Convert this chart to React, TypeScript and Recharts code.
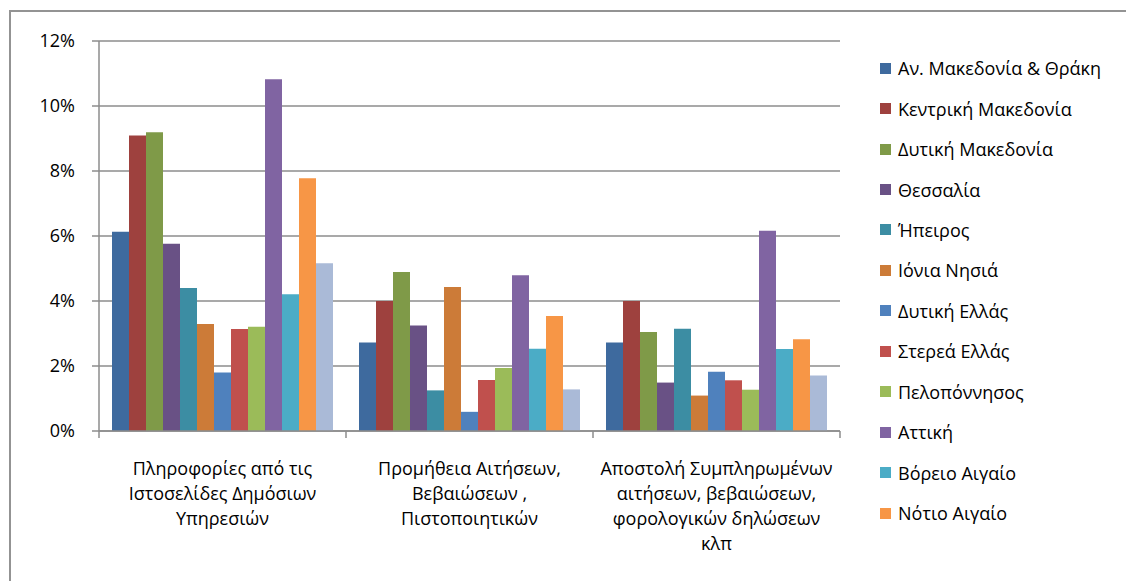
import React from "react";
import { BarChart, Bar, XAxis, YAxis, CartesianGrid } from "recharts";

const CATEGORY_KEYS = ["info", "forms", "submit"];
const CATEGORY_LINES: string[][] = [
  ["Πληροφορίες από τις", "Ιστοσελίδες Δημόσιων", "Υπηρεσιών"],
  ["Προμήθεια Αιτήσεων,", "Βεβαιώσεων ,", "Πιστοποιητικών"],
  ["Αποστολή Συμπληρωμένων", "αιτήσεων, βεβαιώσεων,", "φορολογικών δηλώσεων", "κλπ"],
];

const SERIES_NAMES = [
  "Αν. Μακεδονία & Θράκη",
  "Κεντρική Μακεδονία",
  "Δυτική Μακεδονία",
  "Θεσσαλία",
  "Ήπειρος",
  "Ιόνια Νησιά",
  "Δυτική Ελλάς",
  "Στερεά Ελλάς",
  "Πελοπόννησος",
  "Αττική",
  "Βόρειο Αιγαίο",
  "Νότιο Αιγαίο",
  "Κρήτη",
];

const SERIES_COLORS = [
  "#3E6A9E",
  "#9E413E",
  "#7F9A48",
  "#695185",
  "#3C8DA3",
  "#CC7B38",
  "#4F81BD",
  "#C0504D",
  "#9BBB59",
  "#8064A2",
  "#4BACC6",
  "#F79646",
  "#AABAD7",
];

// values in percent, per series: [info, forms, submit]
const AN_MAKEDONIA = [6.13, 2.72, 2.72];
const KENTRIKI_MAKEDONIA = [9.09, 4.0, 4.0];
const DYTIKI_MAKEDONIA = [9.19, 4.89, 3.05];
const THESSALIA = [5.76, 3.25, 1.49];
const IPEIROS = [4.4, 1.25, 3.15];
const IONIA = [3.29, 4.43, 1.09];
const DYTIKI_ELLAS = [1.8, 0.59, 1.82];
const STEREA = [3.14, 1.57, 1.56];
const PELOPONNISOS = [3.21, 1.94, 1.27];
const ATTIKI = [10.82, 4.79, 6.16];
const VOREIO = [4.21, 2.53, 2.52];
const NOTIO = [7.78, 3.54, 2.82];
const KRITI = [5.16, 1.28, 1.71];

const SERIES_VALUES = [
  AN_MAKEDONIA,
  KENTRIKI_MAKEDONIA,
  DYTIKI_MAKEDONIA,
  THESSALIA,
  IPEIROS,
  IONIA,
  DYTIKI_ELLAS,
  STEREA,
  PELOPONNISOS,
  ATTIKI,
  VOREIO,
  NOTIO,
  KRITI,
];

const Y_TICKS = [0, 2, 4, 6, 8, 10, 12];
const LEGEND_VISIBLE = 12;

const data = CATEGORY_KEYS.map((key, ci) => {
  const row: Record<string, any> = { key };
  SERIES_VALUES.forEach((vals, si) => {
    row["s" + si] = vals[ci];
  });
  return row;
});

const FONT = "'Open Sans', sans-serif";
const FONT_SIZE = 18;
const GRAY = "#8c8c8c";

const CategoryTick = (props: any) => {
  const { x, y, payload, index } = props;
  const half = payload.offset || 0;
  const lines = CATEGORY_LINES[index] || [];
  const last = index === CATEGORY_LINES.length - 1;
  return (
    <g>
      <line x1={x - half} x2={x - half} y1={y} y2={y + 7} stroke={GRAY} strokeWidth={1.5} />
      {last && <line x1={x + half} x2={x + half} y1={y} y2={y + 7} stroke={GRAY} strokeWidth={1.5} />}
      <text x={x} y={y} textAnchor="middle" fontFamily={FONT} fontSize={FONT_SIZE} fill="#000">
        {lines.map((l, i) => (
          <tspan key={i} x={x} y={y + 44 + i * 25}>
            {l}
          </tspan>
        ))}
      </text>
    </g>
  );
};

export default function App() {
  return (
    <div style={{ position: "absolute", left: 0, top: 0, width: 1126, height: 581, background: "#fff", overflow: "hidden" }}>
      <div
        style={{
          position: "absolute",
          left: 9,
          top: 10,
          width: 1200,
          height: 700,
          borderLeft: "2px solid #939393",
          borderTop: "2px solid #939393",
        }}
      />
      <div style={{ position: "absolute", left: 0, top: 0 }}>
        <BarChart
          width={1126}
          height={581}
          data={data}
          margin={{ top: 41, right: 286, left: 0, bottom: 0 }}
          barCategoryGap={13}
          barGap={0}
        >
          <CartesianGrid vertical={false} stroke={GRAY} strokeWidth={1.5} />
          <XAxis
            dataKey="key"
            height={150}
            interval={0}
            tickSize={0}
            tickMargin={0}
            tickLine={false}
            axisLine={{ stroke: GRAY, strokeWidth: 1.5 }}
            tick={<CategoryTick />}
          />
          <YAxis
            width={99}
            domain={[0, 12]}
            ticks={Y_TICKS}
            interval={0}
            tickFormatter={(v: number) => `${v}%`}
            tickSize={7}
            tickMargin={17}
            tickLine={{ stroke: GRAY, strokeWidth: 1.5 }}
            axisLine={{ stroke: GRAY, strokeWidth: 1.5 }}
            tick={{ fontFamily: FONT, fontSize: FONT_SIZE, fill: "#000" }}
          />
          {SERIES_NAMES.map((name, si) => (
            <Bar
              key={name}
              dataKey={"s" + si}
              name={name}
              fill={SERIES_COLORS[si]}
              isAnimationActive={false}
            />
          ))}
        </BarChart>
      </div>
      <div style={{ position: "absolute", left: 880, top: 48, fontFamily: FONT, fontSize: FONT_SIZE, color: "#000" }}>
        {SERIES_NAMES.slice(0, LEGEND_VISIBLE).map((name, si) => (
          <div key={name} style={{ display: "flex", alignItems: "center", height: 40.45, whiteSpace: "nowrap" }}>
            <span style={{ display: "inline-block", width: 11, height: 11, background: SERIES_COLORS[si], marginRight: 7, flexShrink: 0 }} />
            <span>{name}</span>
          </div>
        ))}
      </div>
    </div>
  );
}
